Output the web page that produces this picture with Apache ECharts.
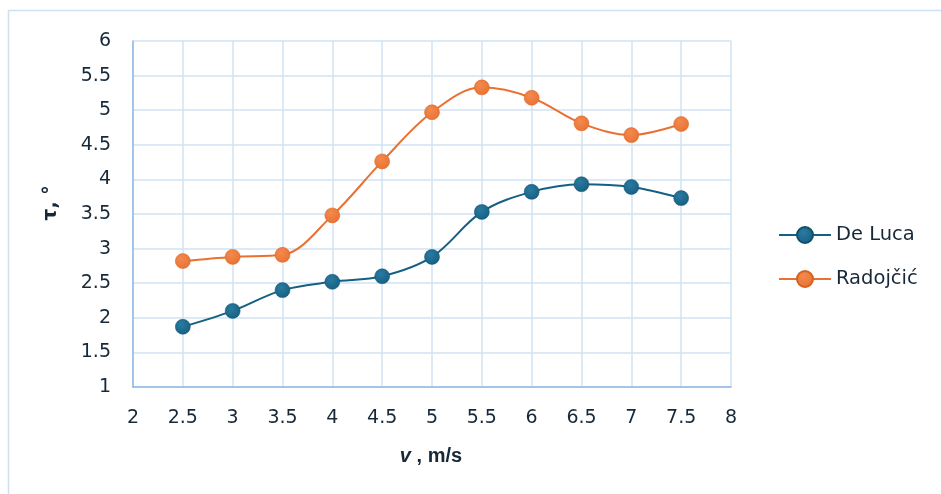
<!DOCTYPE html>
<html>
<head>
<meta charset="utf-8">
<script src="https://cdn.jsdelivr.net/npm/echarts@6/dist/echarts.min.js"></script>
<style>
  html, body { margin: 0; padding: 0; background: #fff; }
  #chart { width: 941px; height: 494px; }
</style>
</head>
<body>
<div id="chart"></div>
<script>
// Flow speed (m/s) and angle τ (°) for the two models
const speeds = [2.5, 3, 3.5, 4, 4.5, 5, 5.5, 6, 6.5, 7, 7.5];
const deLuca = [1.87, 2.10, 2.40, 2.52, 2.60, 2.88, 3.53, 3.82, 3.93, 3.89, 3.73];
const radojcic = [2.82, 2.88, 2.91, 3.48, 4.26, 4.97, 5.33, 5.18, 4.81, 4.64, 4.80];
const seriesNames = ['De Luca', 'Radojčić'];

const blue = '#156082';
const orange = '#E97132';
const textColor = '#172838';
const gridColor = '#d0e3f5';
const axisColor = '#8fb8e2';
const tickFont = 'DejaVu Sans, sans-serif';
const titleFont = 'Liberation Sans, Arial, sans-serif';

function ballFill(base, light) {
  return new echarts.graphic.RadialGradient(0.4, 0.35, 0.7, [
    { offset: 0, color: light },
    { offset: 1, color: base }
  ]);
}

function pairs(ys) {
  return speeds.map((x, i) => [x, ys[i]]);
}

const chart = echarts.init(document.getElementById('chart'));
chart.setOption({
  animation: false,
  backgroundColor: '#fff',
  textStyle: { fontFamily: tickFont },
  grid: { left: 133, right: 210, top: 41, bottom: 107 },
  legend: {
    orient: 'vertical',
    left: 773,
    top: 220,
    itemGap: 24,
    itemWidth: 52,
    itemHeight: 20,
    textStyle: { fontFamily: tickFont, fontSize: 19.5, color: textColor },
    data: seriesNames
  },
  xAxis: {
    type: 'value',
    min: 2, max: 8, interval: 0.5,
    axisLine: { show: true, lineStyle: { color: axisColor, width: 1.5 } },
    axisTick: { show: false },
    axisLabel: { fontSize: 19, color: textColor, margin: 22 },
    splitLine: { show: true, lineStyle: { color: gridColor, width: 1.5 } }
  },
  yAxis: {
    type: 'value',
    min: 1, max: 6, interval: 0.5,
    axisLine: { show: true, lineStyle: { color: axisColor, width: 1.5 } },
    axisTick: { show: false },
    axisLabel: { fontSize: 19, color: textColor, margin: 22 },
    splitLine: { show: true, lineStyle: { color: gridColor, width: 1.5 } }
  },
  series: [
    {
      name: seriesNames[0],
      type: 'line',
      smooth: 0.35,
      data: pairs(deLuca),
      symbol: 'circle',
      symbolSize: 15,
      lineStyle: { color: blue, width: 2 },
      itemStyle: { color: ballFill(blue, '#2a7aa0'), borderColor: '#124f6c', borderWidth: 0.5 }
    },
    {
      name: seriesNames[1],
      type: 'line',
      smooth: 0.35,
      data: pairs(radojcic),
      symbol: 'circle',
      symbolSize: 15,
      lineStyle: { color: orange, width: 2 },
      itemStyle: { color: ballFill(orange, '#f38a4f'), borderColor: '#d4621f', borderWidth: 0.5 }
    }
  ],
  graphic: [
    {
      type: 'rect',
      shape: { x: 8.5, y: 10.5, width: 940, height: 490 },
      style: { fill: 'none', stroke: '#cfe0f1', lineWidth: 1.5 },
      silent: true
    },
    {
      type: 'text',
      x: 431, y: 456,
      style: {
        rich: {
          v: { fontSize: 20, fontWeight: 'bold', fontStyle: 'italic', fill: textColor, fontFamily: titleFont },
          u: { fontSize: 20, fontWeight: 'bold', fill: textColor, fontFamily: titleFont }
        },
        text: '{v|v}{u| , m/s}',
        align: 'center', verticalAlign: 'middle'
      }
    },
    {
      type: 'text',
      x: 51, y: 203,
      rotation: Math.PI / 2,
      style: {
        text: 'τ, °',
        fontSize: 19, fontWeight: 'bold', fill: textColor,
        fontFamily: 'DejaVu Sans, sans-serif',
        align: 'center', verticalAlign: 'middle'
      }
    }
  ]
});
</script>
</body>
</html>
